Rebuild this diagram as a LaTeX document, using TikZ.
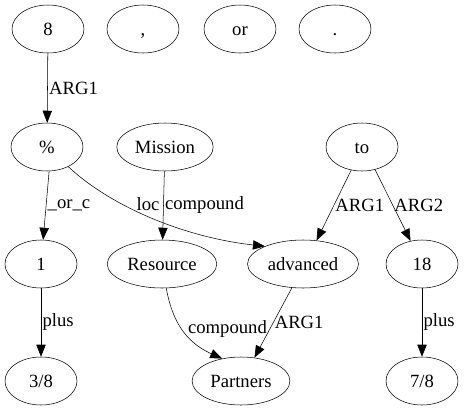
\documentclass[tikz,border=0pt]{standalone}
\usepackage{fontspec}
\setmainfont{Liberation Serif}
\newfontfamily\timesfont{Liberation Serif}
\usetikzlibrary{shapes.geometric,arrows.meta}

\begin{document}
\begin{tikzpicture}[x=0.75pt,y=-0.75pt,>={Triangle[length=9pt,width=7pt]},
  word/.style={draw,ellipse,minimum width=54pt,minimum height=36pt,inner xsep=3pt,inner ysep=0pt,text height=9.5pt,text depth=0pt,font=\timesfont\fontsize{14}{16}\selectfont},
  lab/.style={inner sep=1pt,font=\timesfont\fontsize{14}{16}\selectfont}]

\useasboundingbox (0,0) rectangle (464,411);

% The top row
\node[word] (n8) at (48,29) {8};
\foreach \nm/\xx/\tx in {comma/143/{,},or/240/{or},dot/335/{.}}
{
	\node[word] (\nm) at (\xx,29) {\tx};
}

% The second row
\node[word] (pct) at (47,147) {\%};
\node[word] (mission) at (165,147) {Mission};
\node[word] (to) at (362,147) {to};

% The third row
\node[word] (one) at (41,264) {1};
\node[word] (resource) at (162,264) {Resource};
\node[word] (advanced) at (303,264) {advanced};
\node[word] (eighteen) at (422,264) {18};

% The bottom row
\node[word] (threeeighths) at (41,381) {3/8};
\node[word] (partners) at (241,381) {Partners};
\node[word] (seveneighths) at (422,381) {7/8};

% The edges
\draw[->] (n8) -- (pct) node[lab,midway,right] {ARG1};
\draw[->] (pct.-85) -- (one) node[lab,midway,right] {\_or\_c};
\draw[->] (pct) .. controls (115,210) and (190,238) .. (advanced.155);
\node[lab] (loclab) at (148,204) {loc};
\draw[->] (mission) -- (resource) node[lab,midway,right] {compound};
\draw[->] (to.-115) -- (advanced.60) node[lab,midway,right] {ARG1};
\draw[->] (to.-60) -- (eighteen) node[lab,midway,right] {ARG2};
\draw[->] (one) -- (threeeighths) node[lab,midway,right] {plus};
\draw[->] (resource.-80) .. controls (172,320) and (185,342) .. (partners.130) node[lab,pos=0.5,right=3pt] {compound};
\draw[->] (advanced.-115) -- (partners.60) node[lab,midway,right] {ARG1};
\draw[->] (eighteen) -- (seveneighths) node[lab,midway,right] {plus};

\end{tikzpicture}
\end{document}
